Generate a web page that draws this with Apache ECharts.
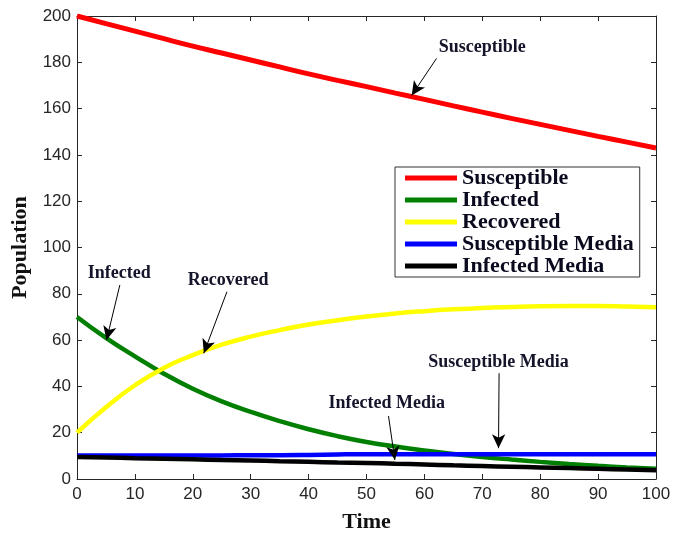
<!DOCTYPE html>
<html>
<head>
<meta charset="utf-8">
<script src="https://cdn.jsdelivr.net/npm/echarts@6/dist/echarts.min.js"></script>
<style>
  html, body { margin: 0; padding: 0; background: #fff; }
  #chart { width: 685px; height: 533px; }
</style>
</head>
<body>
<div id="chart"></div>
<script>
// Sample times
const time = [0, 5, 10, 15, 20, 25, 30, 35, 40, 45, 50, 55, 60, 65, 70, 75, 80, 85, 90, 95, 100];

// Population of each compartment at the sample times
const susceptible = [200, 196.7, 193.5, 190.2, 187, 184, 181, 178, 175, 172.2, 169.5, 166.7, 164, 161.2, 158.5, 155.8, 153.2, 150.6, 148, 145.5, 143];
const infected = [70, 61, 53, 45.5, 39, 33.5, 29, 25, 21.5, 18.5, 16, 14, 12.3, 10.8, 9.5, 8.4, 7.4, 6.5, 5.7, 5, 4.4];
const recovered = [20, 31, 40.5, 48, 53.5, 58, 61.5, 64.3, 66.7, 68.6, 70.2, 71.5, 72.5, 73.3, 73.9, 74.3, 74.6, 74.7, 74.7, 74.5, 74.2];
const susceptibleMedia = [10.2, 10.2, 10.2, 10.2, 10.2, 10.2, 10.3, 10.3, 10.4, 10.6, 10.7, 10.7, 10.7, 10.7, 10.7, 10.7, 10.7, 10.7, 10.7, 10.7, 10.7];
const infectedMedia = [9.5, 9.3, 9.0, 8.8, 8.5, 8.2, 8.0, 7.7, 7.4, 7.1, 6.9, 6.6, 6.3, 5.9, 5.6, 5.3, 5.0, 4.7, 4.4, 4.1, 3.8];

// Axis ticks
const xTicks = [0, 10, 20, 30, 40, 50, 60, 70, 80, 90, 100];
const yTicks = [0, 20, 40, 60, 80, 100, 120, 140, 160, 180, 200];

// Callout labels: text position and arrow (start -> tip), in data units
const calloutNames = ['Susceptible', 'Infected', 'Recovered', 'Infected Media', 'Susceptible Media'];
const calloutTextAt = [[70, 186.5], [7.3, 89], [26.1, 86], [53.5, 32.7], [72.8, 50.2]];
const calloutArrowFrom = [[62.1, 181.7], [7.4, 83.8], [25.9, 80.9], [53.8, 27.2], [72.9, 45.7]];
const calloutArrowTo = [[57.8, 165.7], [5.1, 60], [21.9, 54.3], [54.9, 8.2], [72.8, 13.3]];

const seriesDefs = [
  { name: 'Susceptible', values: susceptible, color: '#ff0000', width: 5 },
  { name: 'Infected', values: infected, color: '#007f00', width: 4.5 },
  { name: 'Recovered', values: recovered, color: '#ffff00', width: 4.5 },
  { name: 'Susceptible Media', values: susceptibleMedia, color: '#0000ff', width: 4.5 },
  { name: 'Infected Media', values: infectedMedia, color: '#000000', width: 4.5 }
];

const tickFont = { fontFamily: 'Liberation Sans, Arial, sans-serif', fontSize: 17, color: '#262626' };
const titleFont = { fontFamily: 'Liberation Serif, Times New Roman, serif', fontSize: 22, fontWeight: 'bold', color: '#111' };
const axisLineStyle = { color: '#262626', width: 1 };

function baseAxis(extra) {
  return Object.assign({
    type: 'value',
    min: 0,
    axisLine: { show: true, onZero: false, lineStyle: axisLineStyle },
    axisTick: { show: true, inside: true, length: 5, lineStyle: axisLineStyle },
    splitLine: { show: false }
  }, extra);
}

const xMax = xTicks[xTicks.length - 1];
const xStep = xTicks[1] - xTicks[0];
const yMax = yTicks[yTicks.length - 1];
const yStep = yTicks[1] - yTicks[0];

const series = seriesDefs.map(function (d) {
  return {
    name: d.name,
    type: 'line',
    xAxisIndex: 0,
    yAxisIndex: 0,
    data: time.map(function (t, i) { return [t, d.values[i]]; }),
    showSymbol: false,
    smooth: 0.5,
    color: d.color,
    lineStyle: { color: d.color, width: d.width },
    animation: false
  };
});

// Callout arrows and texts drawn on top of everything
series.push({
  name: 'callouts',
  type: 'line',
  data: [],
  xAxisIndex: 0,
  yAxisIndex: 0,
  silent: true,
  animation: false,
  z: 10,
  markLine: {
    silent: true,
    animation: false,
    symbol: ['none', 'arrow'],
    symbolSize: [10, 14],
    label: { show: false },
    lineStyle: { color: '#000', width: 1, type: 'solid' },
    emphasis: { disabled: true },
    data: calloutNames.map(function (n, i) {
      return [{ coord: calloutArrowFrom[i] }, { coord: calloutArrowTo[i] }];
    })
  },
  markPoint: {
    silent: true,
    animation: false,
    symbol: 'circle',
    symbolSize: 1,
    itemStyle: { color: 'rgba(0,0,0,0)' },
    label: {
      show: true,
      position: 'inside',
      fontFamily: 'Liberation Serif, Times New Roman, serif',
      fontWeight: 'bold',
      fontSize: 18,
      color: '#14142a'
    },
    data: calloutNames.map(function (n, i) {
      return { coord: calloutTextAt[i], value: n, label: { formatter: n } };
    })
  }
});

const chart = echarts.init(document.getElementById('chart'), null, { renderer: 'canvas' });
chart.setOption({
  backgroundColor: '#ffffff',
  animation: false,
  grid: { left: 77, right: 29, top: 16, bottom: 54, containLabel: false, outerBoundsMode: 'none' },
  legend: {
    data: seriesDefs.map(function (d) { return d.name; }),
    orient: 'vertical',
    left: 395,
    top: 167,
    icon: 'rect',
    itemWidth: 52,
    itemHeight: 5,
    itemGap: 0,
    padding: [0, 6, 0, 10],
    borderColor: '#333',
    borderWidth: 1,
    backgroundColor: '#fff',
    selectedMode: false,
    textStyle: {
      fontFamily: 'Liberation Serif, Times New Roman, serif',
      fontWeight: 'bold',
      fontSize: 22,
      lineHeight: 22,
      color: '#0a0a1e',
      padding: [0, 0, 0, 0]
    }
  },
  xAxis: [
    baseAxis({
      position: 'bottom',
      max: xMax,
      interval: xStep,
      name: 'Time',
      nameLocation: 'middle',
      nameGap: 32,
      nameTextStyle: titleFont,
      axisLabel: Object.assign({ margin: 7 }, tickFont)
    }),
    baseAxis({
      position: 'top',
      max: xMax,
      interval: xStep,
      axisLabel: { show: false }
    })
  ],
  yAxis: [
    baseAxis({
      position: 'left',
      max: yMax,
      interval: yStep,
      name: 'Population',
      nameLocation: 'middle',
      nameGap: 41,
      nameTextStyle: titleFont,
      axisLabel: Object.assign({ margin: 6 }, tickFont)
    }),
    baseAxis({
      position: 'right',
      max: yMax,
      interval: yStep,
      axisLabel: { show: false }
    })
  ],
  series: series
});
</script>
</body>
</html>
